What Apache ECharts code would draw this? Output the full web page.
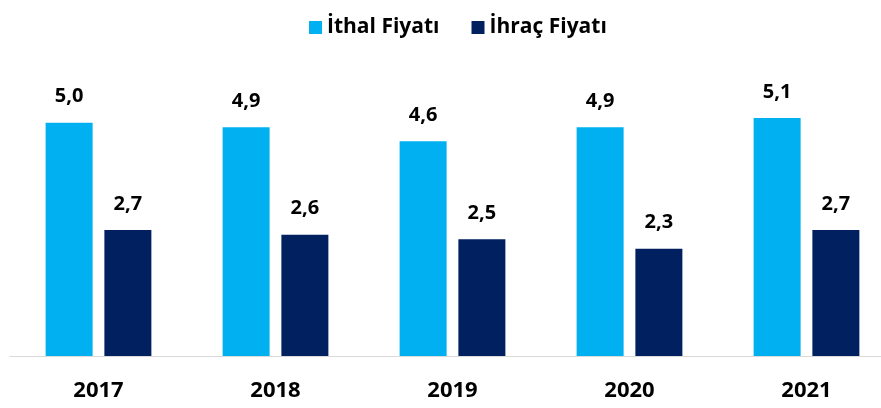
<!DOCTYPE html>
<html>
<head>
<meta charset="utf-8">
<script src="https://cdn.jsdelivr.net/npm/echarts@6/dist/echarts.min.js"></script>
<style>
  html, body { margin: 0; padding: 0; background: #fff; }
  #main { width: 881px; height: 408px; }
</style>
</head>
<body>
<div id="main"></div>
<script>
var years = ["2017", "2018", "2019", "2020", "2021"];
var ithalFiyati = [5.0, 4.9, 4.6, 4.9, 5.1];
var ihracFiyati = [2.7, 2.6, 2.5, 2.3, 2.7];

var fontFam = "'Open Sans', 'Liberation Sans', sans-serif";

function fmt(p) {
  return p.value.toFixed(1).replace(".", ",");
}

var myChart = echarts.init(document.getElementById("main"));
myChart.setOption({
  animation: false,
  color: ["#00B0F0", "#002060"],
  legend: {
    top: 12,
    left: 304,
    itemWidth: 13,
    itemHeight: 13,
    itemGap: 32,
    icon: "rect",
    textStyle: { fontFamily: fontFam, fontWeight: "bold", fontSize: 21, color: "#000" },
    data: ["İthal Fiyatı", "İhraç Fiyatı"]
  },
  // chart is cropped on the right in the original, so the grid runs past the edge
  grid: { left: 10, right: -14, top: 76, bottom: 52, outerBoundsMode: "none" },
  xAxis: {
    type: "category",
    data: years,
    axisLine: { lineStyle: { color: "#d9d9d9", width: 1 } },
    axisTick: { show: false },
    axisLabel: { margin: 24, fontFamily: fontFam, fontWeight: "bold", fontSize: 22, color: "#000" }
  },
  yAxis: {
    type: "value",
    min: 0,
    max: 6,
    show: false,
    splitLine: { show: false }
  },
  series: [
    {
      name: "İthal Fiyatı",
      type: "bar",
      barWidth: 47,
      barGap: "25%",
      data: ithalFiyati,
      label: { show: true, position: "top", distance: 16, formatter: fmt,
        fontFamily: fontFam, fontWeight: "bold", fontSize: 20, color: "#000" }
    },
    {
      name: "İhraç Fiyatı",
      type: "bar",
      barWidth: 47,
      data: ihracFiyati,
      label: { show: true, position: "top", distance: 16, formatter: fmt,
        fontFamily: fontFam, fontWeight: "bold", fontSize: 20, color: "#000" }
    }
  ]
});
window.addEventListener("resize", function () {
  myChart.resize();
});
</script>
</body>
</html>
